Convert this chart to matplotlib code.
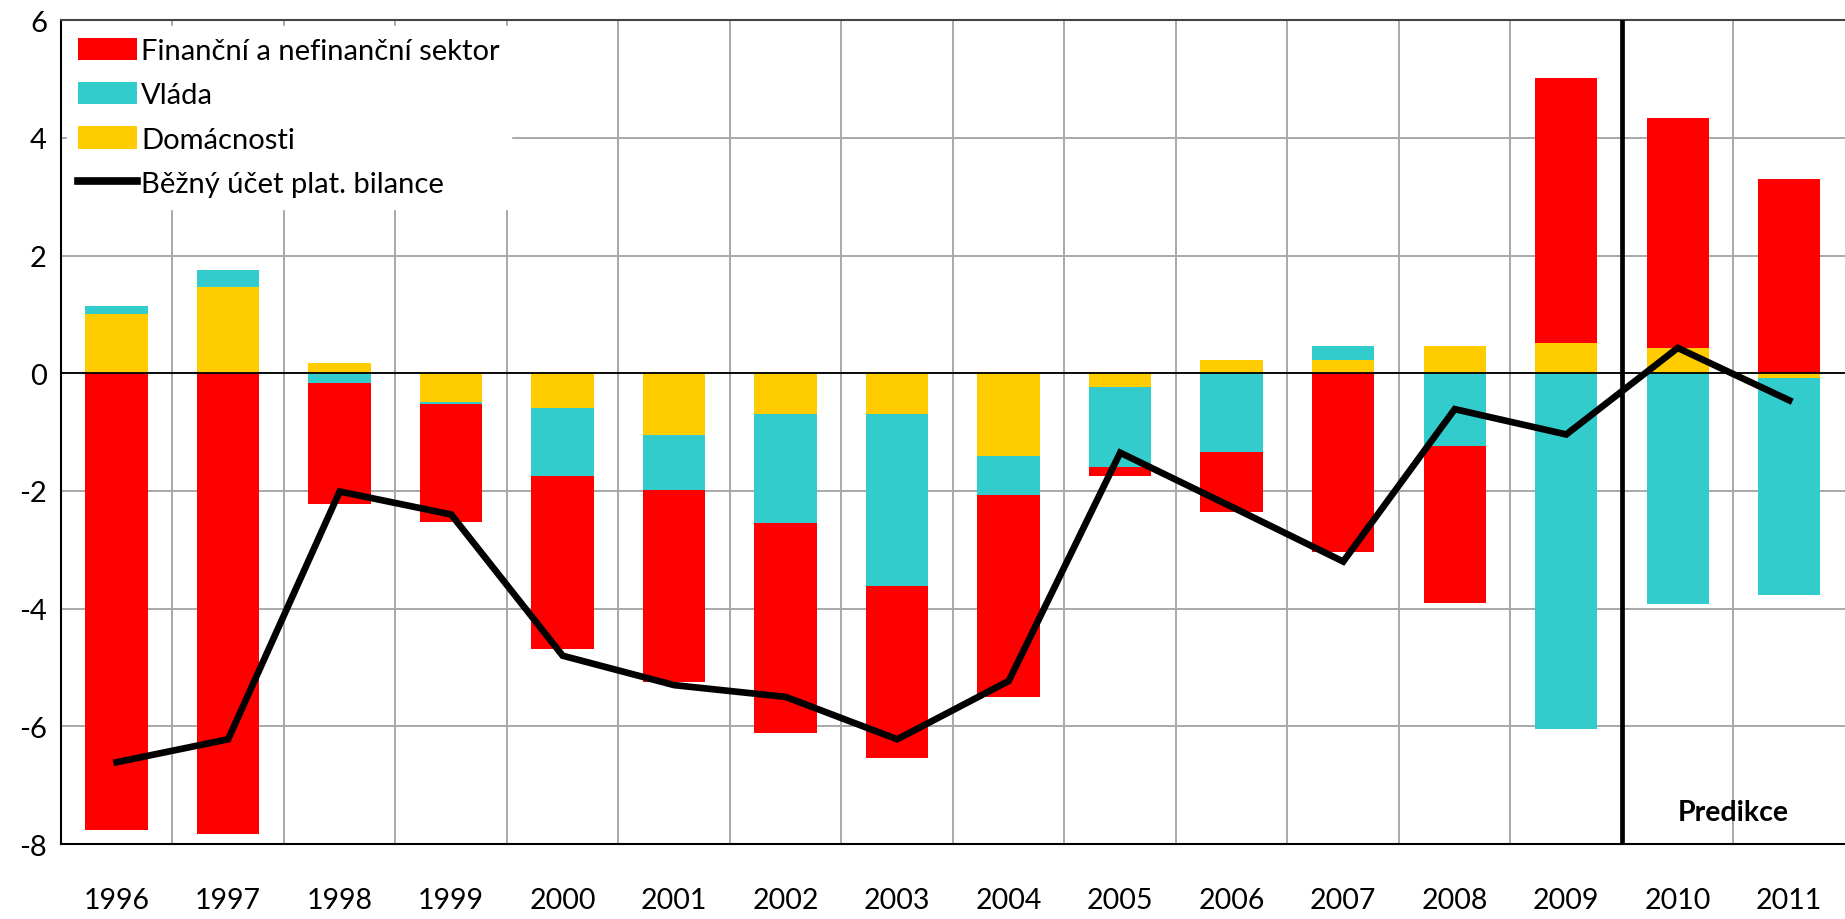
import numpy as np
import matplotlib
matplotlib.use("Agg")
import matplotlib.pyplot as plt

plt.rcParams['font.family'] = ['Lato', 'DejaVu Sans']

years = ['1996', '1997', '1998', '1999', '2000', '2001', '2002', '2003',
         '2004', '2005', '2006', '2007', '2008', '2009', '2010', '2011']

# saldo by sector, % of GDP
domacnosti = [1.00, 1.47, 0.18, -0.49, -0.59, -1.05, -0.70, -0.70,
              -1.40, -0.24, 0.23, 0.23, 0.47, 0.52, 0.43, -0.08]
vlada = [0.15, 0.29, -0.17, -0.03, -1.16, -0.93, -1.85, -2.91,
         -0.67, -1.35, -1.33, 0.24, -1.24, -6.04, -3.92, -3.68]
financni = [-7.76, -7.83, -2.06, -2.00, -2.94, -3.27, -3.56, -2.92,
            -3.43, -0.16, -1.02, -3.03, -2.66, 4.50, 3.91, 3.30]
bezny_ucet = [-6.61, -6.22, -2.01, -2.40, -4.80, -5.30, -5.50, -6.22,
              -5.23, -1.35, -2.27, -3.20, -0.61, -1.04, 0.43, -0.46]

labels = ['Finanční a nefinanční sektor', 'Vláda', 'Domácnosti',
          'Běžný účet plat. bilance']
colors = {'fin': '#FF0000', 'vlada': '#33CCCC', 'dom': '#FFCC00'}

x = np.arange(len(years))
w = 0.56

fig = plt.figure(figsize=(18.45, 9.2), dpi=100)
ax = fig.add_axes([0.033, 0.0815, 0.967, 0.8955])

# stack positives upwards and negatives downwards, order: dom, vlada, fin
pos = np.zeros(len(years))
neg = np.zeros(len(years))
handles = {}
for key, vals in [('dom', domacnosti), ('vlada', vlada), ('fin', financni)]:
    v = np.array(vals)
    bottom = np.where(v >= 0, pos, neg)
    handles[key] = ax.bar(x, v, w, bottom=bottom, color=colors[key],
                          zorder=3, linewidth=0)
    pos = pos + np.clip(v, 0, None)
    neg = neg + np.clip(v, None, 0)

line, = ax.plot(x, bezny_ucet, color='black', lw=4.8, zorder=5,
                solid_joinstyle='miter')

ax.axhline(0, color='black', lw=1.3, zorder=4)
ax.axvline(13.5, color='black', lw=3.4, zorder=6)

ax.set_xlim(-0.5, 15.5)
ax.set_ylim(-8, 6)
ax.set_yticks(np.arange(-8, 7, 2))
ax.set_yticklabels([str(v) for v in range(-8, 7, 2)])
ax.set_xticks(x)
ax.set_xticklabels(years)
ax.set_xticks(np.arange(0.5, 15.5, 1), minor=True)

ax.grid(False)
ax.yaxis.grid(True, color='#A8A8A8', lw=1.4, zorder=0)
ax.xaxis.grid(True, which='minor', color='#A8A8A8', lw=1.4, zorder=0)
ax.set_axisbelow(True)

ax.tick_params(axis='x', which='both', length=0, pad=31, labelsize=20.5)
ax.tick_params(axis='y', length=0, pad=10, labelsize=21)

for s in ['left', 'bottom']:
    ax.spines[s].set_color('black')
    ax.spines[s].set_linewidth(1.5)
ax.spines['top'].set_color('#444444')
ax.spines['top'].set_linewidth(1.5)
ax.spines['right'].set_visible(False)

ax.text(14.5, -7.45, 'Predikce', ha='center', va='center',
        fontsize=20.5, fontweight='bold', zorder=7)

leg = ax.legend([handles['fin'], handles['vlada'], handles['dom'], line],
                labels, loc='upper left', fontsize=21, frameon=True,
                framealpha=1, edgecolor='white', fancybox=False,
                handlelength=2.0, handleheight=0.8, handletextpad=0.15,
                labelspacing=0.62, borderaxespad=0.2, borderpad=0.4)
leg.set_zorder(8)
for ln in leg.get_lines():
    ln.set_linewidth(5.5)

fig.savefig('out.png', dpi=100)
